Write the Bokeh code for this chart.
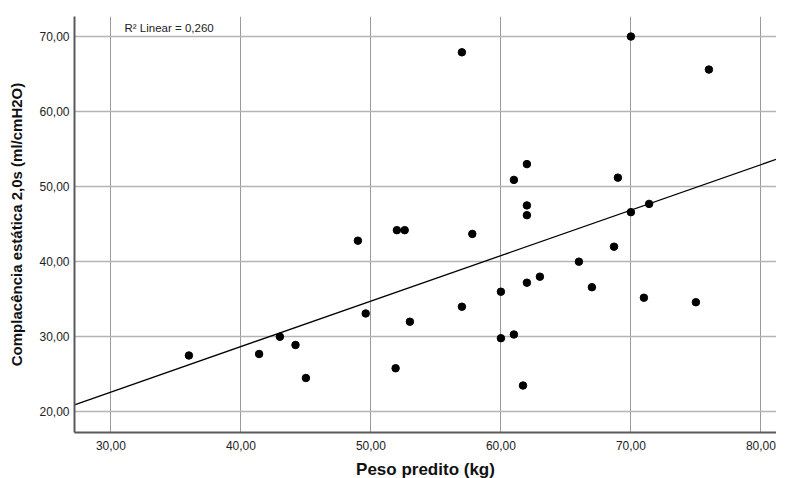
import numpy as np
from bokeh.plotting import figure
from bokeh.models import Range1d, FixedTicker, CustomJSTickFormatter, Label, ColumnDataSource
from bokeh.embed import file_html
from bokeh.resources import INLINE

# Data
peso_predito = [36.0, 41.4, 43.0, 44.2, 45.0, 49.0, 49.6, 51.9, 52.0, 52.6,
                53.0, 57.0, 57.0, 57.8, 60.0, 60.0, 61.0, 61.0, 61.7, 62.0,
                62.0, 62.0, 62.0, 63.0, 66.0, 67.0, 68.7, 69.0, 70.0, 70.0,
                71.0, 71.4, 75.0, 76.0]
complacencia = [27.5, 27.7, 30.0, 28.9, 24.5, 42.8, 33.1, 25.8, 44.2, 44.2,
                32.0, 67.9, 34.0, 43.7, 36.0, 29.8, 50.9, 30.3, 23.5, 53.0,
                47.5, 46.2, 37.2, 38.0, 40.0, 36.6, 42.0, 51.2, 70.0, 46.6,
                35.2, 47.7, 34.6, 65.6]
x_ticks = [30, 40, 50, 60, 70, 80]
y_ticks = [20, 30, 40, 50, 60, 70]
r2_label = "R² Linear = 0,260"

FONT = "Liberation Sans"

x_start, x_end = 27.2, 81.2
y_start, y_end = 17.24, 72.67

p = figure(frame_width=702, frame_height=416, output_backend="svg", toolbar_location=None,
           x_range=Range1d(x_start, x_end), y_range=Range1d(y_start, y_end),
           min_border_left=74, min_border_right=0, min_border_top=16, min_border_bottom=0)
p.outline_line_color = None
p.background_fill_color = "white"
p.border_fill_color = "white"

fmt = CustomJSTickFormatter(code="return tick.toFixed(2).replace('.', ',');")
for ax, ticks in ((p.xaxis[0], x_ticks), (p.yaxis[0], y_ticks)):
    ax.ticker = FixedTicker(ticks=ticks)
    ax.formatter = fmt
    ax.major_tick_line_color = None
    ax.minor_tick_line_color = None
    ax.major_tick_out = 0
    ax.major_tick_in = 0
    ax.minor_tick_out = 0
    ax.axis_line_color = "#5a5a5a"
    ax.axis_line_width = 2
    ax.major_label_text_font = FONT
    ax.major_label_text_font_size = "12px"
    ax.major_label_text_color = "#222222"
    ax.axis_label_text_font = FONT
    ax.axis_label_text_font_style = "bold"
    ax.axis_label_text_color = "#111111"

p.xaxis.axis_label = "Peso predito (kg)"
p.yaxis.axis_label = "Complacência estática 2,0s (ml/cmH2O)"
p.xaxis.axis_label_text_font_size = "17px"
p.yaxis.axis_label_text_font_size = "15px"
p.xaxis.major_label_standoff = 8
p.xaxis.axis_label_standoff = 7
p.yaxis.major_label_standoff = 5
p.yaxis.axis_label_standoff = 11

p.xgrid.grid_line_color = "#9a9a9a"
p.ygrid.grid_line_color = "#b4b4b4"
p.xgrid.grid_line_width = 1
p.ygrid.grid_line_width = 1.5

# Linear fit from the data
xs = np.array(peso_predito)
ys = np.array(complacencia)
slope, intercept = np.polyfit(xs, ys, 1)
lx = np.array([x_start, x_end])
p.line(lx, slope * lx + intercept, line_color="black", line_width=1.3)

src = ColumnDataSource(dict(x=peso_predito, y=complacencia))
p.scatter("x", "y", source=src, size=7.5, fill_color="black", line_color="black")

p.add_layout(Label(x=x_start + (126 - 76) / 13.0, y=y_end - (27 - 16) / 7.5,
                   text=r2_label, text_font=FONT, text_font_size="11.5px",
                   text_color="#222222", text_baseline="middle"))

open("out.html", "w").write(file_html(p, INLINE))
